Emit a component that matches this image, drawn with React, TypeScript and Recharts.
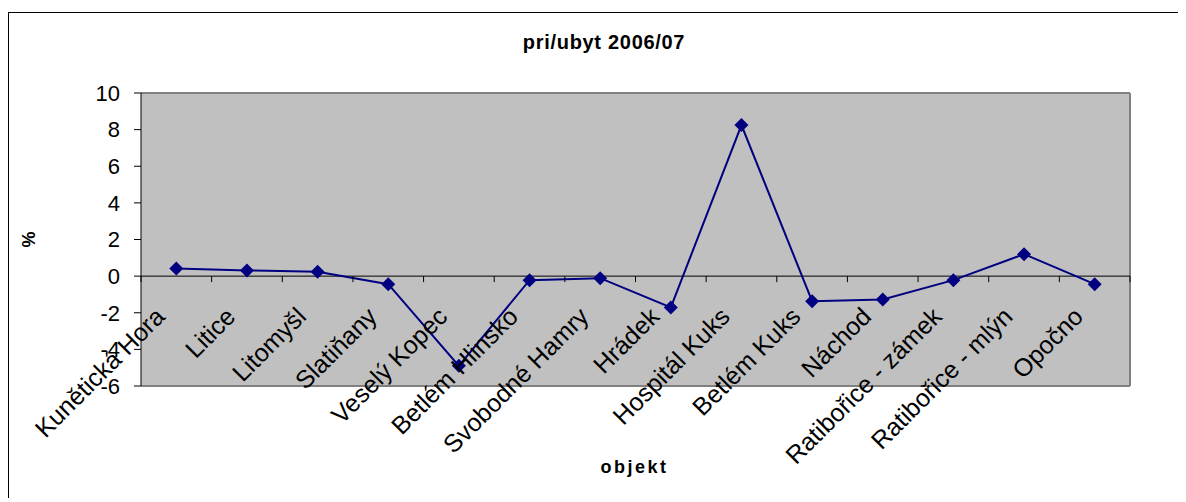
import { LineChart, Line, XAxis, YAxis, CartesianGrid, ReferenceLine } from 'recharts'

const categories = [
  'Kunětická Hora', 'Litice', 'Litomyšl', 'Slatiňany', 'Veselý Kopec', 'Betlém Hlinsko',
  'Svobodné Hamry', 'Hrádek', 'Hospitál Kuks', 'Betlém Kuks', 'Náchod',
  'Ratibořice - zámek', 'Ratibořice - mlýn', 'Opočno',
]
const values = [0.42, 0.31, 0.24, -0.44, -4.9, -0.22, -0.11, -1.71, 8.25, -1.37, -1.28, -0.22, 1.2, -0.44]
const yTicks = [-6, -4, -2, 0, 2, 4, 6, 8, 10]

const data = categories.map((name, i) => ({ name, value: values[i] }))

const W = 1177
const H = 485
const margin = { top: 80, right: 56, bottom: 0, left: 72 }
const yAxisW = 60
const xAxisH = 112
const plotW = W - margin.left - margin.right - yAxisW
const plotH = H - margin.top - margin.bottom - xAxisH
const plotLeft = margin.left + yAxisW
const yMin = -6
const yMax = 10
const zeroY = margin.top + (plotH * yMax) / (yMax - yMin)
const band = plotW / categories.length
const font = 'Arial, "Liberation Sans", sans-serif'

function CategoryTick(props: any) {
  const { x, payload, index } = props
  const ex = x - 10
  const ey = zeroY + 42
  return (
    <g>
      {index === 0 && <line x1={x - band / 2} x2={x - band / 2} y1={zeroY} y2={zeroY + 6} stroke="#000" />}
      <line x1={x + band / 2} x2={x + band / 2} y1={zeroY} y2={zeroY + 6} stroke="#000" />
      <text x={ex} y={ey} textAnchor="end" fontSize={25} fontFamily={font} fill="#000"
        transform={`rotate(-45, ${ex}, ${ey})`}>
        {payload.value}
      </text>
    </g>
  )
}

function Diamond(props: any) {
  const { cx, cy } = props
  if (cx == null || cy == null) return null
  return <polygon points={`${cx},${cy - 7} ${cx + 7},${cy} ${cx},${cy + 7} ${cx - 7},${cy}`} fill="#000080" />
}

export default function App() {
  return (
    <div style={{ paddingTop: 4 }}>
      <div style={{ width: W, height: H, borderTop: '1px solid #000', borderLeft: '1px solid #000' }}>
        <LineChart width={W} height={H} data={data} margin={margin}>
          <text x={595} y={36} textAnchor="middle" fontSize={20} fontWeight="bold" fontFamily={font}
            letterSpacing={0.7} fill="#000">
            pri/ubyt 2006/07
          </text>
          {/* grey plot area with its frame */}
          <CartesianGrid
            fill="#C0C0C0"
            fillOpacity={1}
            stroke="#808080"
            strokeWidth={2}
            horizontalPoints={[margin.top, margin.top + plotH]}
            verticalPoints={[plotLeft + plotW]}
          />
          <ReferenceLine y={0} stroke="#000" strokeWidth={1} />
          <XAxis
            dataKey="name"
            height={xAxisH}
            interval={0}
            padding={{ left: band / 2, right: band / 2 }}
            axisLine={false}
            tickLine={false}
            tickSize={0}
            tickMargin={0}
            tick={<CategoryTick />}
            label={{
              content: ({ viewBox }: any) => (
                <text x={viewBox.x + viewBox.width / 2 - 1} y={460} textAnchor="middle" fontSize={18}
                  fontWeight="bold" fontFamily={font} letterSpacing={2.5} fill="#000">
                  objekt
                </text>
              ),
            }}
          />
          <YAxis
            width={yAxisW}
            domain={[yMin, yMax]}
            ticks={yTicks}
            interval={0}
            axisLine={{ stroke: '#000' }}
            tickLine={{ stroke: '#000' }}
            tickSize={7}
            tickMargin={14}
            tick={{ fontSize: 22, fill: '#000', fontFamily: font }}
            label={{
              content: ({ viewBox }: any) => {
                const lx = viewBox.x - 46
                const ly = viewBox.y + viewBox.height / 2
                return (
                  <text x={lx} y={ly} textAnchor="middle" fontSize={18} fontWeight="bold" fontFamily={font}
                    fill="#000" transform={`rotate(-90, ${lx}, ${ly})`}>
                    %
                  </text>
                )
              },
            }}
          />
          <Line
            type="linear"
            dataKey="value"
            stroke="#000080"
            strokeWidth={2}
            dot={<Diamond />}
            activeDot={false}
            isAnimationActive={false}
          />
        </LineChart>
      </div>
    </div>
  )
}
